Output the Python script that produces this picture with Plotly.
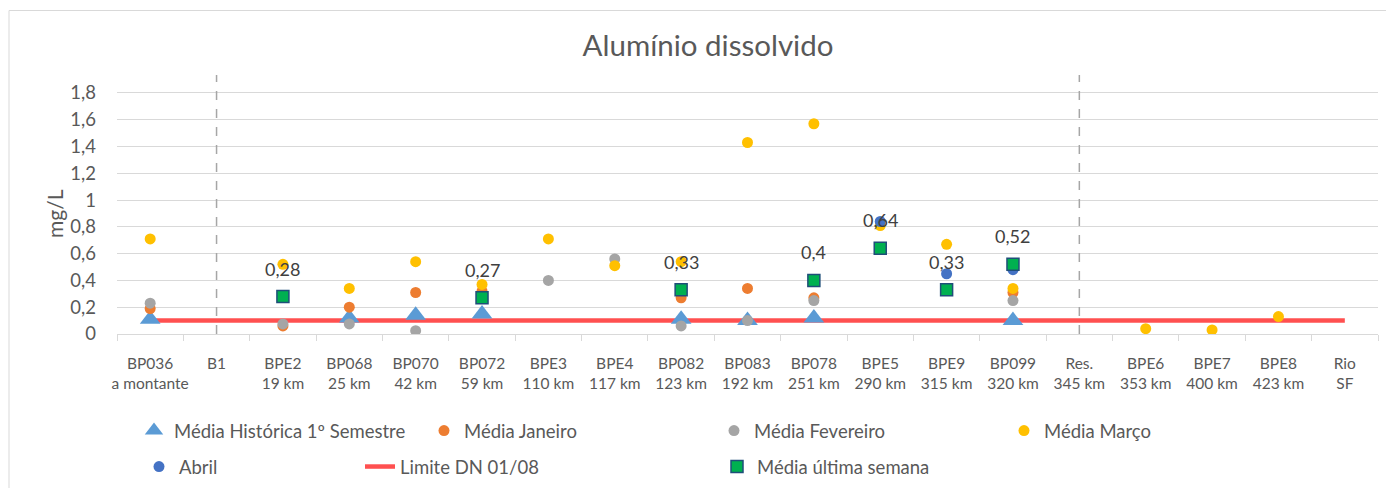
import plotly.graph_objects as go

categories = ["BP036<br>a montante", "B1", "BPE2<br>19 km", "BP068<br>25 km", "BP070<br>42 km",
              "BP072<br>59 km", "BPE3<br>110 km", "BPE4<br>117 km", "BP082<br>123 km",
              "BP083<br>192 km", "BP078<br>251 km", "BPE5<br>290 km", "BPE9<br>315 km",
              "BP099<br>320 km", "Res.<br>345 km", "BPE6<br>353 km", "BPE7<br>400 km",
              "BPE8<br>423 km", "Rio<br>SF"]

media_historica = [0.11, None, None, 0.12, 0.14, 0.15, None, None, 0.11, 0.10, 0.12, None, None, 0.10,
                   None, None, None, None, None]
media_janeiro = [0.19, None, 0.06, 0.20, 0.31, 0.32, None, None, 0.27, 0.34, 0.27, None, None, 0.31,
                 None, None, None, None, None]
media_fevereiro = [0.23, None, 0.075, 0.075, 0.025, None, 0.40, 0.56, 0.06, 0.10, 0.25, None, None, 0.25,
                   None, None, None, None, None]
media_marco = [0.71, None, 0.52, 0.34, 0.54, 0.37, 0.71, 0.51, 0.54, 1.43, 1.57, 0.81, 0.67, 0.34,
               None, 0.04, 0.03, 0.13, None]
abril = [None, None, None, None, None, None, None, None, None, None, None, 0.84, 0.45, 0.48,
         None, None, None, None, None]
limite = [0.1] * 19
media_ultima_semana = [None, None, 0.28, None, None, 0.27, None, None, 0.33, None, 0.4, 0.64, 0.33, 0.52,
                       None, None, None, None, None]

y_ticks = [0, 0.2, 0.4, 0.6, 0.8, 1.0, 1.2, 1.4, 1.6, 1.8]
y_ticktext = [f"{v:g}".replace(".", ",") for v in y_ticks]
divider_categories = [1, 14]  # B1 and Res.

FONT = "Lato"
TXT = "#595959"

# page body has an 8px margin; figure is sized to fill the remaining window
W, H, OFF = 1386, 480, 8


def cx(px):
    return (px - OFF) / W


def cy(py):
    return 1 - (py - OFF) / H


fig = go.Figure()

fig.add_trace(go.Scatter(x=categories, y=limite, mode="lines", name="Limite DN 01/08",
                         line=dict(color="#ff5050", width=4.5), legend="legend3"))
fig.add_trace(go.Scatter(x=categories, y=media_historica, mode="markers", name="Média Histórica 1º Semestre",
                         marker=dict(symbol="triangle-up", size=18, color="#5b9bd5"), legend="legend"))
fig.add_trace(go.Scatter(x=categories, y=media_janeiro, mode="markers", name="Média Janeiro",
                         marker=dict(symbol="circle", size=11, color="#ed7d31"), legend="legend"))
fig.add_trace(go.Scatter(x=categories, y=media_fevereiro, mode="markers", name="Média Fevereiro",
                         marker=dict(symbol="circle", size=11, color="#a5a5a5"), legend="legend"))
fig.add_trace(go.Scatter(x=categories, y=media_marco, mode="markers", name="Média Março",
                         marker=dict(symbol="circle", size=11, color="#ffc000"), legend="legend"))
fig.add_trace(go.Scatter(x=categories, y=abril, mode="markers", name="Abril",
                         marker=dict(symbol="circle", size=11, color="#4472c4"), legend="legend2"))
fig.add_trace(go.Scatter(x=categories, y=media_ultima_semana, mode="markers", name="Média última semana",
                         marker=dict(symbol="square", size=12, color="#00b050",
                                     line=dict(color="#1f4e79", width=1.5)), legend="legend2"))

for c, v in zip(categories, media_ultima_semana):
    if v is not None:
        fig.add_annotation(x=c, y=v, yshift=28, text=f"{v:g}".replace(".", ","), showarrow=False,
                           font=dict(family=FONT, size=18, color="#404040"))

for idx in divider_categories:
    fig.add_shape(type="line", xref="x", yref="y", x0=idx, x1=idx, y0=0, y1=1.934,
                  line=dict(color="#a6a6a6", width=1.5, dash="dash"), layer="above")

# chart border
fig.add_shape(type="rect", xref="paper", yref="paper", x0=(9 - 117) / 1261, x1=1.05,
              y0=-0.7, y1=(334 - 10.5) / 259, line=dict(color="#d9d9d9", width=1), layer="below")

fig.add_annotation(xref="paper", yref="paper", x=(54 - 117) / 1261, y=(334 - 213) / 259, text="mg/L",
                   xanchor="center", yanchor="middle",
                   textangle=-90, showarrow=False, font=dict(family=FONT, size=21, color=TXT))

legend_common = dict(orientation="h", xref="container", yref="container", yanchor="middle",
                     font=dict(family=FONT, size=18.5, color=TXT), bgcolor="rgba(0,0,0,0)",
                     entrywidthmode="pixels")

fig.update_layout(
    width=W, height=H,
    margin=dict(l=109, r=16, t=67, b=154, autoexpand=False),
    paper_bgcolor="white", plot_bgcolor="white",
    font=dict(family=FONT, color=TXT),
    title=dict(text="Alumínio dissolvido", x=cx(708), xanchor="center", xref="container",
               y=cy(46), yanchor="middle", yref="container",
               font=dict(family=FONT, size=29.5, color=TXT)),
    xaxis=dict(type="category", showgrid=False, showline=True, linecolor="#d9d9d9", linewidth=1,
               ticks="outside", tickson="boundaries", ticklen=6, tickcolor="#d9d9d9", tickangle=0,
               automargin=False, ticklabelstandoff=15,
               tickfont=dict(family=FONT, size=15.5, color=TXT), range=[-0.5, 18.5], fixedrange=True),
    yaxis=dict(range=[0, 1.934], tickvals=y_ticks, ticktext=y_ticktext, showgrid=True, automargin=False,
               gridcolor="#d9d9d9", gridwidth=1, zeroline=False, showline=False,
               tickfont=dict(family=FONT, size=18.5, color=TXT), ticklabelstandoff=20),
    showlegend=True,
    legend=dict(**legend_common, x=cx(134), y=cy(431), entrywidth=245),
    legend2=dict(**legend_common, x=cx(139), y=cy(467), entrywidth=533),
    legend3=dict(**legend_common, x=cx(360), y=cy(467)),
)

fig.write_html("out.html")
